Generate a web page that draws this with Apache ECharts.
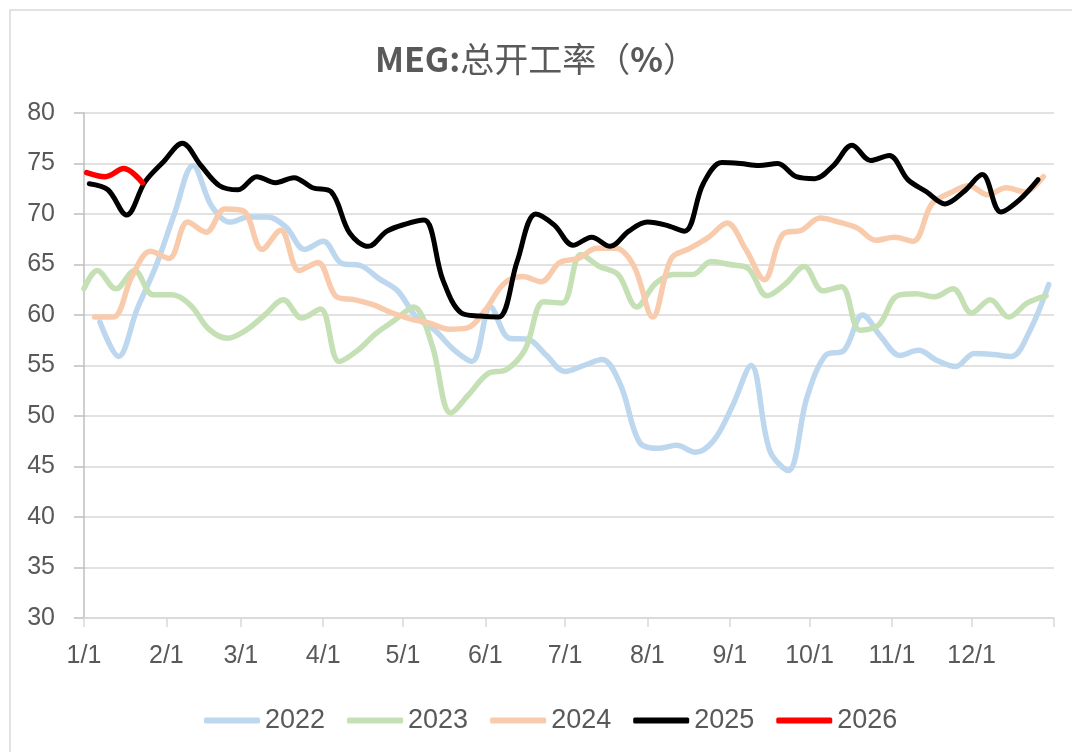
<!DOCTYPE html>
<html>
<head>
<meta charset="utf-8">
<script src="https://cdn.jsdelivr.net/npm/echarts@6/dist/echarts.min.js"></script>
<style>
  html, body { margin: 0; padding: 0; background: #fff; }
  #main { width: 1072px; height: 752px; }
</style>
</head>
<body>
<div id="main"></div>
<script>
// month start labels on the date axis (non-leap year, day index from 1/1)
var monthLabels = ['1/1','2/1','3/1','4/1','5/1','6/1','7/1','8/1','9/1','10/1','11/1','12/1'];
var monthDays = [31,28,31,30,31,30,31,31,30,31,30,31];

// weekly readings, first day offset of each year
var start2022 = 6, start2023 = 5, start2024 = 4, start2025 = 2, start2026 = 1;

var v2022 = [59.3,55.9,60.6,64.8,70.0,74.8,70.8,69.2,69.7,69.7,68.7,66.5,67.3,65.1,64.9,63.6,
  62.4,59.8,58.5,56.6,55.4,60.8,57.7,57.6,56.0,54.4,55.0,55.6,53.0,47.4,46.8,47.1,46.4,47.6,
  51.0,55.0,46.6,44.6,51.8,56.0,56.5,60.0,57.8,56.0,56.5,55.5,54.9,56.2,56.1,55.9,58.5,63.0];
var first2023 = 62.6; // value on 1/1
var v2023 = [64.4,62.6,64.4,62.0,62.0,61.0,58.6,57.7,58.5,60.0,61.5,59.7,60.6,55.4,56.5,58.2,
  59.5,60.8,57.0,50.3,52.2,54.2,54.6,56.6,61.3,61.2,66.0,64.8,64.0,60.8,63.1,64.0,64.0,65.3,
  65.0,64.6,61.9,63.1,64.8,62.4,62.8,58.5,59.0,61.9,62.1,61.8,62.6,60.2,61.5,59.8,61.2,61.9];
var v2024 = [59.8,59.8,63.8,66.3,65.6,69.2,68.2,70.5,70.3,66.5,68.4,64.4,65.2,61.8,61.5,61.0,
  60.2,59.6,59.2,58.6,58.7,60.5,63.1,63.8,63.3,65.2,65.6,66.6,66.6,64.8,59.8,65.6,66.6,67.7,
  69.1,66.5,63.5,68.0,68.4,69.6,69.2,68.6,67.4,67.7,67.3,71.0,72.1,72.8,71.9,72.6,72.2,73.7];
var v2025 = [73.0,72.4,69.9,73.2,75.2,77.0,74.8,72.8,72.4,73.7,73.1,73.6,72.6,72.2,68.1,66.8,
  68.3,69.0,69.4,63.5,60.2,59.9,59.8,65.3,70.0,68.9,66.9,67.7,66.8,68.3,69.2,68.9,68.3,73.0,
  75.1,75.0,74.8,75.0,73.7,73.5,74.8,76.8,75.3,75.8,73.4,72.2,71.0,72.2,73.9,70.2,71.4,73.4];
var v2026 = [74.1,73.7,74.5,73.1];

var years = ['2022','2023','2024','2025','2026'];
var colors = ['#BDD7EE','#C5E0B4','#F8CBAD','#000000','#FF0000'];

// day-of-year categories
var days = [];
var monthStart = [];
var idx = 0;
for (var m = 0; m < 12; m++) {
  monthStart.push(idx);
  for (var d = 1; d <= monthDays[m]; d++) {
    days.push((m + 1) + '/' + d);
    idx++;
  }
}
days.push('end');

function weekly(start, vals) {
  return vals.map(function (v, i) { return [start + i * 7, v]; });
}

var data2023 = [[0, first2023]].concat(weekly(start2023, v2023));
var seriesData = [
  weekly(start2022, v2022),
  data2023,
  weekly(start2024, v2024),
  weekly(start2025, v2025),
  weekly(start2026, v2026)
];

var myChart = echarts.init(document.getElementById('main'));
var font = "'Liberation Sans', Arial, sans-serif";
var cjk = "'Noto Sans CJK SC', sans-serif";

var option = {
  animation: false,
  backgroundColor: '#fff',
  title: {
    text: '{b|MEG:}{n|总开工率（}{b|%}{n|）}',
    left: 'center',
    top: 37,
    textStyle: {
      rich: {
        b: { fontSize: 34, fontWeight: 'bold', color: '#595959', fontFamily: cjk },
        n: { fontSize: 34, fontWeight: 'normal', color: '#595959', fontFamily: cjk }
      }
    }
  },
  graphic: [{
    type: 'rect',
    shape: { x: 10, y: 10, width: 1200, height: 900 },
    style: { fill: 'none', stroke: '#d9d9d9', lineWidth: 1.5 },
    silent: true
  }],
  legend: {
    data: years,
    left: 199,
    top: 702,
    icon: 'roundRect',
    itemWidth: 56,
    itemHeight: 6,
    itemGap: 22,
    textStyle: { fontSize: 27, color: '#595959', fontFamily: font }
  },
  grid: {
    left: 84, right: 18, top: 113, bottom: 134,
    containLabel: false,
    outerBoundsMode: 'none'
  },
  xAxis: {
    type: 'category',
    data: days,
    boundaryGap: false,
    axisLine: { lineStyle: { color: '#d9d9d9', width: 1.5 } },
    axisTick: {
      length: 9,
      lineStyle: { color: '#d9d9d9', width: 1.5 },
      interval: function (i) { return monthStart.indexOf(i) >= 0 || i === days.length - 1; }
    },
    axisLabel: {
      margin: 26,
      fontSize: 25,
      color: '#595959',
      fontFamily: font,
      interval: function (i) { return monthStart.indexOf(i) >= 0; },
      formatter: function (v, i) { return monthLabels[monthStart.indexOf(i)] || ''; }
    },
    splitLine: { show: false }
  },
  yAxis: {
    type: 'value',
    min: 30,
    max: 80,
    interval: 5,
    axisLine: { show: true, lineStyle: { color: '#bfbfbf', width: 1.5 } },
    axisTick: { show: true, length: 10, lineStyle: { color: '#bfbfbf', width: 1.5 } },
    axisLabel: { margin: 29, fontSize: 25, color: '#595959', fontFamily: font },
    splitLine: { lineStyle: { color: '#d9d9d9', width: 1.5 } }
  },
  series: years.map(function (y, i) {
    return {
      name: y,
      type: 'line',
      smooth: 0.35,
      showSymbol: false,
      symbol: 'none',
      color: colors[i],
      lineStyle: { width: y === '2025' ? 5 : 5.5, color: colors[i], cap: 'round', join: 'round' },
      data: seriesData[i]
    };
  })
};
myChart.setOption(option);
</script>
</body>
</html>
